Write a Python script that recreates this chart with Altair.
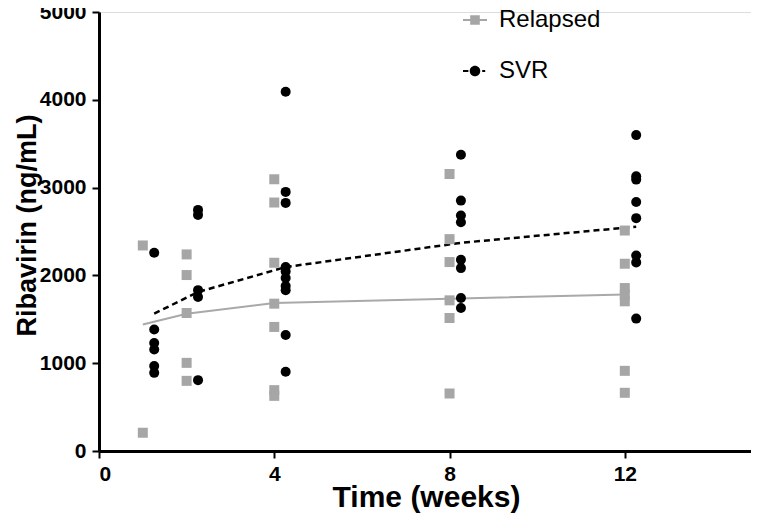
import altair as alt
import pandas as pd

# ---- data ----
rel_week = [1, 1,
            2, 2, 2, 2, 2,
            4, 4, 4, 4, 4, 4, 4,
            8, 8, 8, 8, 8, 8,
            12, 12, 12, 12, 12, 12, 12]
rel_conc = [2341, 208,
            2239, 2004, 1572, 1004, 799,
            3095, 2830, 2144, 1678, 1413, 693, 628,
            3155, 2413, 2152, 1716, 1515, 655,
            2511, 2133, 1856, 1781, 1705, 913, 663]

svr_week = [1.26] * 6 + [2.26] * 5 + [4.26] * 10 + [8.26] * 8 + [12.26] * 8
svr_conc = [2258, 1383, 1231, 1156, 968, 890,
            2746, 2689, 1832, 1754, 807,
            4091, 2951, 2826, 2095, 2045, 1970, 1879, 1830, 1322, 903,
            3375, 2852, 2682, 2606, 2178, 2083, 1742, 1629,
            3598, 3129, 3091, 2837, 2652, 2227, 2148, 1508]

rel_fit_week = [1, 2, 4, 8, 12]
rel_fit_conc = [1440, 1564, 1686, 1735, 1782]
svr_fit_week = [1.26, 2.26, 4.26, 8.26, 12.26]
svr_fit_conc = [1565, 1811, 2095, 2371, 2555]

groups = ["Relapsed", "SVR"]
group_colors = ["#a6a6a6", "#000000"]

x_ticks = [0, 4, 8, 12]
y_ticks = [0, 1000, 2000, 3000, 4000, 5000]

FONT = "Liberation Sans"

rel_df = pd.DataFrame({"week": rel_week, "conc": rel_conc})
svr_df = pd.DataFrame({"week": svr_week, "conc": svr_conc})
rel_fit = pd.DataFrame({"week": rel_fit_week, "conc": rel_fit_conc})
svr_fit = pd.DataFrame({"week": svr_fit_week, "conc": svr_fit_conc})
leg_df = pd.DataFrame({"group": groups})

xscale = alt.Scale(domain=[0, 14.88], nice=False, zero=False)
yscale = alt.Scale(domain=[0, 5000], nice=False)

xaxis = alt.Axis(values=x_ticks, format="d", title="Time (weeks)", grid=False,
                 labelFont=FONT, labelFontSize=21, labelFontWeight="bold", labelColor="black",
                 titleFont=FONT, titleFontSize=30, titleFontWeight="bold", titleColor="black",
                 titleX=327, titleY=55, titleBaseline="alphabetic",
                 domainColor="black", domainWidth=3, tickColor="black", tickWidth=2,
                 tickSize=7, labelPadding=5)
yaxis = alt.Axis(values=y_ticks, format="d", title="Ribavirin (ng/mL)", grid=False,
                 labelFont=FONT, labelFontSize=21, labelFontWeight="bold", labelColor="black",
                 titleFont=FONT, titleFontSize=27, titleFontWeight="bold", titleColor="black",
                 titleX=-64, titleY=213, titleBaseline="alphabetic",
                 domainColor="black", domainWidth=3, tickColor="black", tickWidth=2,
                 tickSize=7, labelPadding=6)

X = alt.X("week:Q", scale=xscale, axis=xaxis)
Y = alt.Y("conc:Q", scale=yscale, axis=yaxis)

rel_line = alt.Chart(rel_fit).mark_line(color="#a9a9a9", strokeWidth=2).encode(x=X, y=Y)
svr_line = alt.Chart(svr_fit).mark_line(color="black", strokeWidth=2.5, strokeDash=[6, 4]).encode(x=X, y=Y)
rel_pts = alt.Chart(rel_df).mark_square(color="#a6a6a6", size=100, opacity=1).encode(x=X, y=Y)
svr_pts = alt.Chart(svr_df).mark_circle(color="black", size=100, opacity=1).encode(x=X, y=Y)

# custom legend symbols (Vega scales path units by sqrt(size)/2)
rel_sym = ("M-1,-0.085H1V0.085H-1Z "
           "M-0.4,-0.4H0.4V0.4H-0.4Z")
svr_sym = ("M-1,-0.085H-0.55V0.085H-1Z "
           "M-0.44,0A0.44,0.44,0,1,1,0.44,0A0.44,0.44,0,1,1,-0.44,0Z "
           "M0.6,-0.085H0.85V0.085H0.6Z")

legend_layer = alt.Chart(leg_df).mark_point(filled=True, opacity=1, size=576).encode(
    color=alt.Color("group:N", scale=alt.Scale(domain=groups, range=group_colors),
                    legend=alt.Legend(title=None, orient="none", legendX=364, legendY=-4,
                                      padding=0, rowPadding=27, symbolSize=576,
                                      symbolStrokeWidth=0, labelOffset=12,
                                      labelFont=FONT, labelFontSize=24, labelColor="black",
                                      labelBaseline="middle")),
    shape=alt.Shape("group:N", scale=alt.Scale(domain=groups, range=[rel_sym, svr_sym])),
).transform_filter("false")

chart = alt.layer(rel_line, svr_line, rel_pts, svr_pts, legend_layer).properties(
    width=652, height=439,
    autosize=alt.AutoSizeParams(type="none"),
    padding={"left": 91, "top": 4, "right": 0, "bottom": 63},
).configure_view(stroke=None).configure(background="white")

chart.save("out.html", embed_options={"renderer": "svg", "actions": False})
